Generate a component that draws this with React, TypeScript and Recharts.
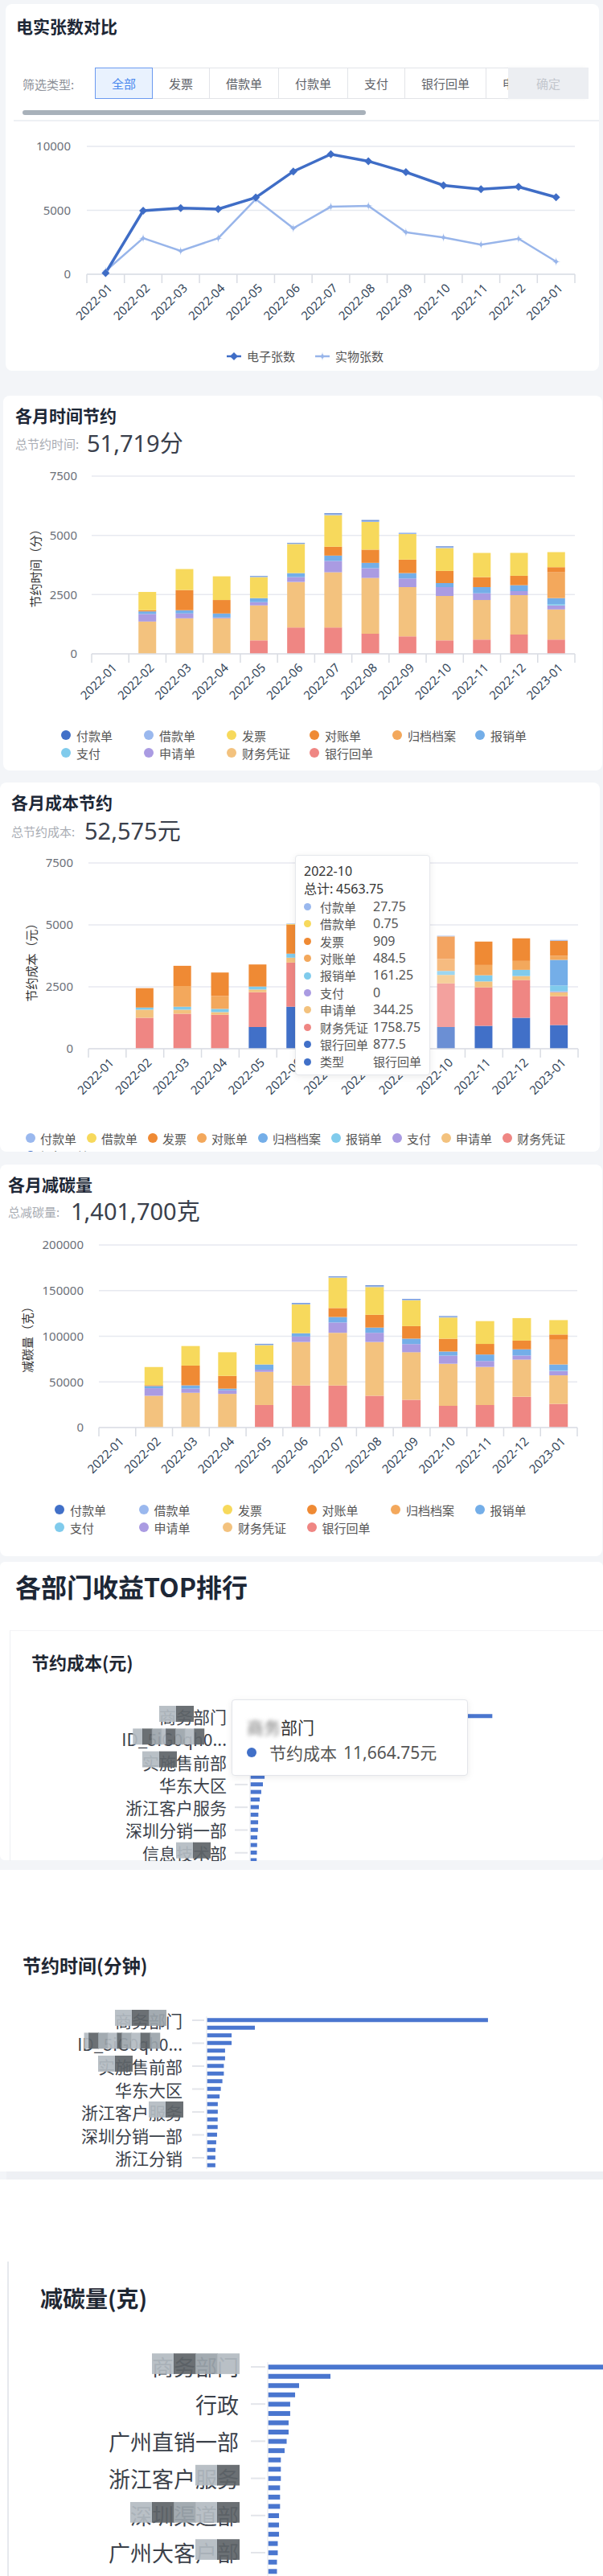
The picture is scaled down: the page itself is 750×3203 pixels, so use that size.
import React from 'react';
import { LineChart, Line, BarChart, Bar, XAxis, YAxis, CartesianGrid, Tooltip, Cell } from 'recharts';

const FONT = "'Noto Sans CJK SC', 'Noto Sans', sans-serif";
const NUM_FONT = "'Noto Sans', 'Noto Sans CJK SC', sans-serif";

const MONTHS = ['2022-01', '2022-02', '2022-03', '2022-04', '2022-05', '2022-06', '2022-07', '2022-08', '2022-09', '2022-10', '2022-11', '2022-12', '2023-01'];

// 电实张数对比
const ELECTRONIC = [100, 4970, 5180, 5100, 6000, 8040, 9390, 8840, 7980, 6950, 6650, 6840, 6020];
const PHYSICAL = [250, 2820, 1830, 2820, 5870, 3600, 5280, 5350, 3280, 2880, 2320, 2780, 990];

const FILTERS = ['全部', '发票', '借款单', '付款单', '支付', '银行回单', '申请单'];
const TYPES = ['付款单', '借款单', '发票', '对账单', '归档档案', '报销单', '支付', '申请单', '财务凭证', '银行回单'];

// 各月时间节约 (分)
const TIME_PAY = [0, 0, 0, 0, 20, 20, 34, 34, 0, 25, 0, 0, 0];
const TIME_LOAN = [0, 0, 0, 0, 25, 30, 45, 45, 57, 45, 0, 0, 0];
const TIME_INVOICE = [0, 770, 886, 1000, 886, 1227, 1329, 1170, 1079, 966, 1022, 966, 636];
const TIME_RECON = [0, 50, 852, 568, 0, 0, 375, 557, 568, 511, 420, 398, 216];
const TIME_ARCHIVE = [0, 0, 0, 0, 0, 0, 0, 0, 0, 0, 0, 0, 1090];
const TIME_EXPENSE = [0, 110, 136, 170, 170, 170, 227, 227, 227, 170, 261, 250, 250];
const TIME_PAYMENT = [0, 0, 0, 0, 0, 0, 0, 0, 0, 0, 0, 0, 57];
const TIME_APPLY = [0, 318, 205, 34, 136, 205, 477, 409, 364, 375, 284, 170, 170];
const TIME_VOUCHER = [0, 1364, 1500, 1500, 1477, 1920, 2329, 2352, 2079, 1874, 1670, 1659, 1272];
const TIME_BANK = [0, 0, 0, 0, 568, 1113, 1113, 852, 738, 568, 602, 818, 602];

// 各月成本节约 (元)
const COST_PAY = [0, 0, 0, 0, 0, 18, 30, 30, 25, 27.75, 0, 0, 33];
const COST_LOAN = [0, 0, 0, 0, 0, 25, 30, 30, 25, 0.75, 0, 0, 0];
const COST_INVOICE = [0, 783, 815, 946, 891, 1174, 1280, 1250, 1150, 909, 946, 913, 609];
const COST_RECON = [0, 0, 837, 522, 0, 0, 400, 520, 500, 484.5, 413, 359, 163];
const COST_ARCHIVE = [0, 0, 0, 0, 0, 0, 0, 0, 0, 0, 0, 0, 1033];
const COST_EXPENSE = [0, 87, 120, 130, 120, 163, 200, 190, 180, 161.25, 250, 250, 239];
const COST_PAYMENT = [0, 0, 0, 0, 0, 0, 0, 0, 0, 0, 0, 0, 33];
const COST_APPLY = [0, 326, 163, 109, 109, 196, 350, 330, 300, 344.25, 239, 163, 163];
const COST_VOUCHER = [0, 1250, 1413, 1370, 1402, 1783, 2100, 2050, 1900, 1758.75, 1554, 1522, 1163];
const COST_BANK = [0, 0, 0, 0, 880, 1696, 1850, 1500, 1300, 877.5, 924, 1250, 957];

// 各月减碳量 (克)
const CARBON_PAY = [0, 0, 0, 0, 600, 600, 600, 800, 600, 600, 0, 0, 0];
const CARBON_LOAN = [0, 0, 0, 0, 900, 900, 900, 1000, 900, 900, 0, 0, 0];
const CARBON_INVOICE = [0, 19900, 21400, 25900, 21100, 31500, 33300, 30400, 28300, 23200, 25000, 24700, 15800];
const CARBON_RECON = [0, 900, 21700, 14000, 0, 0, 9800, 14000, 13700, 14000, 11600, 9500, 5700];
const CARBON_ARCHIVE = [0, 0, 0, 0, 0, 0, 0, 0, 0, 0, 0, 0, 27100];
const CARBON_EXPENSE = [0, 2400, 3600, 1800, 5700, 3600, 6000, 5700, 6000, 4500, 7100, 6800, 6500];
const CARBON_PAYMENT = [0, 0, 0, 0, 0, 0, 0, 0, 0, 0, 0, 0, 600];
const CARBON_APPLY = [0, 8300, 4500, 3900, 2400, 6000, 11300, 10100, 8900, 8900, 6500, 4500, 4800];
const CARBON_VOUCHER = [0, 34800, 38100, 36900, 36300, 47600, 57700, 58900, 52100, 46100, 41700, 40800, 31300];
const CARBON_BANK = [0, 0, 0, 0, 24700, 46100, 46100, 34800, 30400, 23800, 24700, 33600, 25900];

// 各部门收益TOP排行
const COST_RANK_NAMES = ['商务部门', '技术支持部', '产品研发部', 'ID_5iG0qh0...', '市场部', '财务部', '实施售前部', '人力资源部', '客户成功部', '华东大区', '华南大区', '华北大区', '浙江客户服务', '上海分销部', '北京直销部', '深圳分销一部', '广州直销一部', '行政', '信息技术部', '杭州分销', '苏州分销'];
const COST_RANK_VALUES = [11664.75, 2150, 1400, 1300, 1100, 1000, 950, 850, 700, 620, 540, 465, 426, 400, 390, 380, 350, 340, 330, 320, 310];
const TIME_RANK_NAMES = ['商务部门', '技术支持部', '产品研发部', 'ID_5iG0qh0...', '市场部', '财务部', '实施售前部', '人力资源部', '客户成功部', '华东大区', '华南大区', '华北大区', '浙江客户服务', '上海分销部', '北京直销部', '深圳分销一部', '广州直销一部', '行政', '浙江分销', '信息技术部'];
const TIME_RANK_VALUES = [11600, 1990, 1030, 1030, 760, 760, 710, 710, 650, 585, 535, 460, 460, 455, 455, 430, 395, 365, 360, 360];
const CARBON_RANK_NAMES = ['商务部门', '技术支持部', '产品研发部', '市场部', '行政', '财务部', '人力资源部', '客户成功部', '广州直销一部', '华东大区', '华南大区', '华北大区', '浙江客户服务', '上海分销部', '北京直销部', '深圳分销一部', '深圳渠道部', '信息技术部', '杭州分销', '苏州分销', '广州大客户部', '浙江分销', '南京分销', '成都分销'];
const CARBON_RANK_VALUES = [320000, 55000, 27500, 24000, 19700, 19700, 18300, 18300, 16600, 14800, 11500, 11500, 11500, 10800, 10800, 10800, 9900, 9900, 9900, 8800, 8800, 8100, 8100, 7800];

const PALETTE = ['#4170c8', '#9ab8ee', '#f7d95c', '#ef8a34', '#f3a85c', '#74aee8', '#80cbec', '#aa9be2', '#f3c27e', '#ef8683'];
const TIME_COLORS: Record<string, string> = {};
const COST_COLORS: Record<string, string> = {};
TYPES.forEach((t, i) => {
  TIME_COLORS[t] = PALETTE[i];
  COST_COLORS[t] = PALETTE[(i + 1) % PALETTE.length];
});
const STACK_ORDER = [...TYPES].reverse();
const MOSAIC = ['#b3bbc1', '#5e6468', '#9ba4aa'];

function buildRows(series: number[][]) {
  return MONTHS.map((m, i) => {
    const row: any = { month: m };
    TYPES.forEach((t, k) => { row[t] = series[k][i]; });
    return row;
  });
}

const timeRows = buildRows([TIME_PAY, TIME_LOAN, TIME_INVOICE, TIME_RECON, TIME_ARCHIVE, TIME_EXPENSE, TIME_PAYMENT, TIME_APPLY, TIME_VOUCHER, TIME_BANK]);
const costRows = buildRows([COST_PAY, COST_LOAN, COST_INVOICE, COST_RECON, COST_ARCHIVE, COST_EXPENSE, COST_PAYMENT, COST_APPLY, COST_VOUCHER, COST_BANK]);
const carbonRows = buildRows([CARBON_PAY, CARBON_LOAN, CARBON_INVOICE, CARBON_RECON, CARBON_ARCHIVE, CARBON_EXPENSE, CARBON_PAYMENT, CARBON_APPLY, CARBON_VOUCHER, CARBON_BANK]);
const lineRows = MONTHS.map((m, i) => ({ month: m, e: ELECTRONIC[i], p: PHYSICAL[i] }));

function lighten(hex: string, k: number) {
  const n = parseInt(hex.slice(1), 16);
  const f = (c: number) => Math.round(c + (255 - c) * k);
  return `rgb(${f((n >> 16) & 255)},${f((n >> 8) & 255)},${f(n & 255)})`;
}

function charW(ch: string, fs: number) {
  if (/[\u3000-\uffff]/.test(ch)) return fs;
  if (ch === '.' || ch === 'i' || ch === 'I') return fs * 0.27;
  return fs * 0.56;
}

function Txt({ x, cy, size, color = '#333', weight = 400, family, children }: any) {
  return (
    <div style={{ position: 'absolute', left: x, top: cy - size * 0.7, height: size * 1.4, lineHeight: `${size * 1.4}px`, fontSize: size, color, fontWeight: weight, whiteSpace: 'nowrap', fontFamily: family || FONT }}>
      {children}
    </div>
  );
}

function Card({ x, y, w, h, radius = 8, children }: any) {
  return <div style={{ position: 'absolute', left: x, top: y, width: w, height: h, background: '#fff', borderRadius: radius, overflow: 'hidden' }}>{children}</div>;
}

function VLabel({ cx, cy, children }: any) {
  return (
    <div style={{ position: 'absolute', left: cx, top: cy, transform: 'translate(-50%,-50%) rotate(-90deg)', fontSize: 15, color: '#333', whiteSpace: 'nowrap' }}>{children}</div>
  );
}

function BandTick(props: any) {
  const { x, y, payload, index, bw, n } = props;
  const half = bw / 2;
  const tx = x + 5;
  const ty = y + 14;
  return (
    <g>
      <line x1={x - half} x2={x - half} y1={y} y2={y + 11} stroke="#d9dce3" strokeWidth={1.5} />
      {index === n - 1 && <line x1={x + half} x2={x + half} y1={y} y2={y + 11} stroke="#d9dce3" strokeWidth={1.5} />}
      <text x={tx} y={ty} transform={`rotate(-45 ${tx} ${ty})`} textAnchor="end" dominantBaseline="central" fontSize={15} fill="#34465a" fontFamily={NUM_FONT}>
        {payload.value}
      </text>
    </g>
  );
}

function Diamond({ cx, cy, fill }: any) {
  if (cx == null || cy == null) return null;
  const r = 5;
  return <path d={`M${cx} ${cy - r}L${cx + r} ${cy}L${cx} ${cy + r}L${cx - r} ${cy}Z`} fill={fill} />;
}

function Star({ cx, cy, fill }: any) {
  if (cx == null || cy == null) return null;
  const r = 5.5;
  return <path d={`M${cx} ${cy - r}Q${cx} ${cy} ${cx + r} ${cy}Q${cx} ${cy} ${cx} ${cy + r}Q${cx} ${cy} ${cx - r} ${cy}Q${cx} ${cy} ${cx} ${cy - r}Z`} fill={fill} />;
}

function LineSection() {
  const plotLeft = 108, plotRight = 715, plotTop = 182, plotBottom = 341, top = 170, yW = 60, xH = 72;
  const bw = (plotRight - plotLeft) / MONTHS.length;
  return (
    <div style={{ position: 'absolute', left: 0, top }}>
      <LineChart width={750} height={plotTop - top + plotBottom - plotTop + xH} data={lineRows}
        margin={{ top: plotTop - top, right: 750 - plotRight, left: plotLeft - yW, bottom: 0 }}>
        <CartesianGrid vertical={false} stroke="#e6e9ef" strokeWidth={1.5} />
        <XAxis dataKey="month" interval={0} height={xH} padding={{ left: bw / 2, right: bw / 2 }} tickSize={0} tickMargin={0} tickLine={false}
          axisLine={{ stroke: '#dcdfe6', strokeWidth: 1.5 }} tick={(p: any) => <BandTick {...p} bw={bw} n={MONTHS.length} />} />
        <YAxis width={yW} domain={[0, 10000]} ticks={[0, 5000, 10000]} axisLine={false} tickLine={false} tickSize={0} tickMargin={20}
          tick={{ fill: '#6b7079', fontSize: 15, fontFamily: NUM_FONT }} />
        <Line dataKey="p" stroke="#98b5ea" strokeWidth={2.5} dot={<Star fill="#98b5ea" />} activeDot={false} isAnimationActive={false} />
        <Line dataKey="e" stroke="#3f6dc6" strokeWidth={3.5} dot={<Diamond fill="#3f6dc6" />} activeDot={false} isAnimationActive={false} />
      </LineChart>
    </div>
  );
}

function CostTip() {
  const i = 9;
  const keys = ['付款单', '借款单', '发票', '对账单', '报销单', '支付', '申请单', '财务凭证', '银行回单'];
  const total = Math.round(TYPES.reduce((s, t) => s + costRows[i][t], 0) * 100) / 100;
  const row = (color: string, name: string, val: any) => (
    <div key={name} style={{ display: 'flex', alignItems: 'center', height: 21.4, whiteSpace: 'nowrap' }}>
      <span style={{ flex: 'none', width: 9, height: 9, borderRadius: 5, background: color, marginLeft: 0, marginRight: 11 }} />
      <span style={{ flex: 'none', width: 66, color: '#555', fontSize: 15 }}>{name}</span>
      <span style={{ flex: 'none', color: '#555', fontFamily: NUM_FONT }}>{val}</span>
    </div>
  );
  return (
    <div style={{ width: 168, height: 274, boxSizing: 'border-box', background: '#fff', border: '1px solid #e6e8ec', borderRadius: 4, boxShadow: '0 2px 8px rgba(0,0,0,0.08)', padding: '9px 0 0 10px', fontSize: 16, lineHeight: '21.4px', fontFamily: FONT }}>
      <div style={{ color: '#333', fontFamily: NUM_FONT }}>{costRows[i].month}</div>
      <div style={{ color: '#333', whiteSpace: 'nowrap' }}>总计: <span style={{ fontFamily: NUM_FONT }}>{total}</span></div>
      {keys.map(k => row(COST_COLORS[k], k, String(costRows[i][k])))}
      {row(COST_COLORS['银行回单'], '类型', <span style={{ fontFamily: FONT, fontSize: 15 }}>银行回单</span>)}
    </div>
  );
}

function StackedChart({ top, data, colors, plotLeft, plotRight, plotTop, plotBottom, yW, yMax, yTicks, tickGap, barSize, highlight, tooltip }: any) {
  const xH = 72;
  const bw = (plotRight - plotLeft) / MONTHS.length;
  return (
    <div style={{ position: 'absolute', left: 0, top }}>
      <BarChart width={750} height={plotTop - top + plotBottom - plotTop + xH} data={data}
        margin={{ top: plotTop - top, right: 750 - plotRight, left: plotLeft - yW, bottom: 0 }}>
        <CartesianGrid vertical={false} stroke="#e7e9f0" strokeWidth={1.5} />
        <XAxis dataKey="month" interval={0} height={xH} tickSize={0} tickMargin={0} tickLine={false}
          axisLine={{ stroke: '#dcdfe6', strokeWidth: 1.5 }} tick={(p: any) => <BandTick {...p} bw={bw} n={MONTHS.length} />} />
        <YAxis width={yW} domain={[0, yMax]} ticks={yTicks} axisLine={false} tickLine={false} tickSize={0} tickMargin={tickGap}
          tick={{ fill: '#6b7079', fontSize: 15, fontFamily: NUM_FONT }} />
        {STACK_ORDER.map(t => (
          <Bar key={t} dataKey={t} stackId="s" fill={colors[t]} barSize={barSize} isAnimationActive={false}>
            {highlight != null && data.map((_: any, i: number) => (
              <Cell key={i} fill={i === highlight ? lighten(colors[t], 0.22) : colors[t]} />
            ))}
          </Bar>
        ))}
        {tooltip}
      </BarChart>
    </div>
  );
}

function GridLegend({ x, y, colW, colors }: any) {
  return (
    <div style={{ position: 'absolute', left: x, top: y, display: 'grid', gridTemplateColumns: `repeat(6, ${colW}px)`, gridAutoRows: '22px' }}>
      {TYPES.map(t => (
        <div key={t} style={{ display: 'flex', alignItems: 'center', fontSize: 15, color: '#555' }}>
          <span style={{ width: 12, height: 12, borderRadius: 6, background: colors[t], marginRight: 7 }} />{t}
        </div>
      ))}
    </div>
  );
}

function RankTick(props: any) {
  const { x, y, payload, fs, masks, tickLen, labelGap } = props;
  const name = String(payload.value);
  const xr = x - labelGap;
  const m = masks[name];
  let rects: any = null;
  if (m) {
    const ws = Array.from(name).map(ch => charW(ch, fs));
    const total = ws.reduce((a, b) => a + b, 0);
    let cur = xr - total;
    const pos = ws.map(w => { const s = cur; cur += w; return [s, w]; });
    rects = pos.slice(m[0], m[0] + m[1]).map(([s, w], i) => (
      <rect key={i} x={s} y={y - fs * 0.62} width={w + 1} height={fs * 0.95} fill={MOSAIC[i % 3]} opacity={0.92} />
    ));
  }
  return (
    <g>
      <line x1={x - 3 - tickLen} x2={x - 3} y1={y} y2={y} stroke="#e3e5ea" strokeWidth={2} />
      <text x={xr} y={y} textAnchor="end" dominantBaseline="central" fontSize={fs} fill="#3b414a" fontFamily={FONT}>{name}</text>
      {rects}
    </g>
  );
}

function RankChart({ top, names, values, plotLeft, plotRight, plotTop, band, fs, interval, barSize, max, masks, tickLen, labelGap, width = 750, tooltip }: any) {
  const data = names.map((name: string, i: number) => ({ name, value: values[i] }));
  const plotH = band * names.length;
  return (
    <div style={{ position: 'absolute', left: 0, top }}>
      <BarChart layout="vertical" width={width} height={plotTop - top + plotH + 2} data={data} barCategoryGap={0}
        margin={{ top: plotTop - top, right: width - plotRight, left: 0, bottom: 2 }}>
        <XAxis type="number" hide domain={[0, max]} />
        <YAxis type="category" dataKey="name" width={plotLeft} interval={interval} tickSize={0} tickMargin={0} tickLine={false}
          axisLine={{ stroke: '#eceef2', strokeWidth: 1.5 }}
          tick={(p: any) => <RankTick {...p} fs={fs} masks={masks} tickLen={tickLen} labelGap={labelGap} />} />
        <Bar dataKey="value" fill="#4a76cf" barSize={barSize} isAnimationActive={false} />
        {tooltip}
      </BarChart>
    </div>
  );
}

function RankTip() {
  const v = COST_RANK_VALUES[0].toLocaleString('en-US', { minimumFractionDigits: 2 });
  return (
    <div style={{ width: 294, height: 95, boxSizing: 'border-box', background: '#fff', border: '1px solid #e3e5ea', borderRadius: 4, boxShadow: '0 2px 8px rgba(0,0,0,0.08)', padding: '20px 18px', fontSize: 21, lineHeight: '26px', color: '#333', fontFamily: FONT, whiteSpace: 'nowrap' }}>
      <div>
        <span style={{ filter: 'blur(2.5px)', color: '#777' }}>{COST_RANK_NAMES[0].slice(0, 2)}</span>{COST_RANK_NAMES[0].slice(2)}
      </div>
      <div style={{ display: 'flex', alignItems: 'center', marginTop: 6, color: '#555' }}>
        <span style={{ width: 12, height: 12, borderRadius: 6, background: '#4170c8', marginRight: 16 }} />
        节约成本 <span style={{ marginLeft: 8, fontFamily: NUM_FONT }}>{v}元</span>
      </div>
    </div>
  );
}

function LegendMark({ color, shape }: any) {
  return (
    <svg width={20} height={14} style={{ marginRight: 6 }}>
      <line x1={1} x2={19} y1={7} y2={7} stroke={color} strokeWidth={2.5} />
      {shape === 'diamond' ? <Diamond cx={10} cy={7} fill={color} /> : <Star cx={10} cy={7} fill={color} />}
    </svg>
  );
}

export default function App() {
  return (
    <div style={{ position: 'relative', width: 750, height: 3203, overflow: 'hidden', background: '#f3f5f8', fontFamily: FONT, color: '#333' }}>
      <style>{'body{margin:0}'}</style>

      {/* 电实张数对比 */}
      <Card x={7} y={5} w={738} h={456} />
      <Txt x={20} cy={33} size={21} weight={700} color="#1d2736">电实张数对比</Txt>
      <Txt x={28} cy={104} size={15} color="#8c9098">筛选类型:</Txt>
      <div style={{ position: 'absolute', left: 118, top: 84, width: 514, height: 39, overflow: 'hidden', display: 'flex' }}>
        {FILTERS.map((f, i) => (
          <div key={f} style={{
            flex: 'none', height: 39, boxSizing: 'border-box', padding: '0 20px', lineHeight: '37px', fontSize: 15, marginLeft: i === 0 ? 0 : -1,
            border: i === 0 ? '1.5px solid #6b9af0' : '1px solid #e2e4e8', background: i === 0 ? '#e9f2fe' : '#fff',
            color: i === 0 ? '#4a88ee' : '#5d6168', zIndex: i === 0 ? 2 : 1, position: 'relative',
          }}>{f}</div>
        ))}
      </div>
      <div style={{ position: 'absolute', left: 632, top: 84, width: 100, height: 39, background: '#eceef2', color: '#c3c7ce', fontSize: 15, lineHeight: '39px', textAlign: 'center', boxShadow: '-3px 0 4px rgba(0,0,0,0.04)' }}>确定</div>
      <div style={{ position: 'absolute', left: 28, top: 137, width: 427, height: 6, borderRadius: 3, background: '#a8b1ba' }} />
      <div style={{ position: 'absolute', left: 17, top: 149, width: 728, height: 1.5, background: '#eef0f4' }} />
      <LineSection />
      <div style={{ position: 'absolute', left: 0, width: 750, top: 432, display: 'flex', justifyContent: 'center', fontSize: 15, color: '#555', paddingLeft: 8, boxSizing: 'border-box' }}>
        <div style={{ display: 'flex', alignItems: 'center', marginRight: 24 }}>
          <LegendMark color="#3f6dc6" shape="diamond" />电子张数
        </div>
        <div style={{ display: 'flex', alignItems: 'center' }}>
          <LegendMark color="#98b5ea" shape="star" />实物张数
        </div>
      </div>

      {/* 各月时间节约 */}
      <Card x={4} y={492} w={745} h={466} />
      <Txt x={19} cy={517} size={21} weight={700} color="#1d2736">各月时间节约</Txt>
      <Txt x={19} cy={551} size={15} color="#a8acb3">总节约时间:</Txt>
      <Txt x={108} cy={549} size={29} color="#3a404c" family={NUM_FONT}>51,719<span style={{ fontFamily: FONT }}>分</span></Txt>
      <VLabel cx={43} cy={703}>节约时间（分）</VLabel>
      <StackedChart top={580} data={timeRows} colors={TIME_COLORS} plotLeft={114} plotRight={715} plotTop={592} plotBottom={813}
        yW={80} yMax={7500} yTicks={[0, 2500, 5000, 7500]} tickGap={18} barSize={22} />
      <GridLegend x={76} y={903} colW={103} colors={TIME_COLORS} />

      {/* 各月成本节约 */}
      <div style={{ position: 'absolute', left: 0, top: 973, width: 746, height: 459, background: '#fff', borderRadius: 8, overflow: 'hidden' }}>
        <div style={{ position: 'absolute', left: 32, top: 1404 - 973, width: 710, display: 'flex', flexWrap: 'wrap', rowGap: 0 }}>
          {TYPES.map(t => (
            <div key={t} style={{ display: 'flex', alignItems: 'center', height: 22, fontSize: 15, color: '#555', marginRight: 13 }}>
              <span style={{ width: 12, height: 12, borderRadius: 6, background: COST_COLORS[t], marginRight: 6 }} />{t}
            </div>
          ))}
        </div>
      </div>
      <Txt x={14} cy={998} size={21} weight={700} color="#1d2736">各月成本节约</Txt>
      <Txt x={14} cy={1033} size={15} color="#a8acb3">总节约成本:</Txt>
      <Txt x={105} cy={1031} size={29} color="#3a404c" family={NUM_FONT}>52,575<span style={{ fontFamily: FONT }}>元</span></Txt>
      <VLabel cx={38} cy={1193}>节约成本（元）</VLabel>
      <StackedChart top={1061} data={costRows} colors={COST_COLORS} plotLeft={110} plotRight={719} plotTop={1073} plotBottom={1304}
        yW={80} yMax={7500} yTicks={[0, 2500, 5000, 7500]} tickGap={19} barSize={22} highlight={9}
        tooltip={<Tooltip active defaultIndex={9} cursor={false} isAnimationActive={false} position={{ x: 367, y: 2 }} wrapperStyle={{ zIndex: 10 }} content={() => <CostTip />} />} />

      {/* 各月减碳量 */}
      <Card x={0} y={1448} w={749} h={487} />
      <Txt x={10} cy={1473} size={21} weight={700} color="#1d2736">各月减碳量</Txt>
      <Txt x={10} cy={1506} size={15} color="#a8acb3">总减碳量:</Txt>
      <Txt x={88} cy={1504} size={29} color="#3a404c" family={NUM_FONT}>1,401,700<span style={{ fontFamily: FONT }}>克</span></Txt>
      <VLabel cx={33} cy={1662}>减碳量（克）</VLabel>
      <StackedChart top={1536} data={carbonRows} colors={TIME_COLORS} plotLeft={123} plotRight={718} plotTop={1548} plotBottom={1775}
        yW={90} yMax={200000} yTicks={[0, 50000, 100000, 150000, 200000]} tickGap={19} barSize={23} />
      <GridLegend x={68} y={1866} colW={104.5} colors={TIME_COLORS} />

      {/* 各部门收益TOP排行 */}
      <Card x={0} y={1942} w={750} h={371} radius={6} />
      <Txt x={19} cy={1972} size={32} weight={700} color="#1d2736">各部门收益TOP排行</Txt>
      <div style={{ position: 'absolute', left: 12, top: 2027, width: 740, height: 286, borderLeft: '1.5px solid #eef0f3', borderTop: '1px solid #f3f4f6', overflow: 'hidden' }}>
        <Txt x={26} cy={2065 - 2027} size={22} weight={600} color="#1f2733">节约成本(元)</Txt>
        <div style={{ position: 'absolute', left: -12, top: 0 }}>
          <RankChart top={2100 - 2027} names={COST_RANK_NAMES} values={COST_RANK_VALUES} plotLeft={310} plotRight={620}
            plotTop={2133 - 2027 - 4.7} band={9.43} fs={21} interval={2} barSize={5} max={12000} tickLen={16} labelGap={29}
            masks={{ '商务部门': [0, 2], 'ID_5iG0qh0...': [1, 8], '实施售前部': [0, 2], '信息技术部': [2, 2] }}
            tooltip={<Tooltip active defaultIndex={0} cursor={false} isAnimationActive={false} position={{ x: 287, y: 12 }} wrapperStyle={{ zIndex: 10 }} content={() => <RankTip />} />} />
        </div>
      </div>

      <div style={{ position: 'absolute', left: 0, top: 2325, width: 750, height: 375, background: '#fff' }} />
      <div style={{ position: 'absolute', left: 8, top: 2700, width: 742, height: 10, background: '#eef0f4' }} />
      <div style={{ position: 'absolute', left: 0, top: 2710, width: 750, height: 493, background: '#fff' }} />
      <Txt x={28} cy={2443} size={23} weight={600} color="#1f2733">节约时间(分钟)</Txt>
      <div style={{ position: 'absolute', left: 0, top: 2480, width: 750, height: 220, overflow: 'hidden' }}>
        <RankChart top={0} names={TIME_RANK_NAMES} values={TIME_RANK_VALUES} plotLeft={257} plotRight={619}
          plotTop={2512 - 2480 - 4.75} band={9.5} fs={21} interval={2} barSize={5} max={12000} tickLen={15} labelGap={30}
          masks={{ '商务部门': [0, 3], 'ID_5iG0qh0...': [0, 9], '实施售前部': [0, 2], '浙江客户服务': [4, 2] }} />
      </div>

      <div style={{ position: 'absolute', left: 9, top: 2812, width: 1.5, height: 391, background: '#e6e9ed' }} />
      <Txt x={50} cy={2858} size={28} weight={700} color="#1f2733">减碳量(克)</Txt>
      <div style={{ position: 'absolute', left: 0, top: 2900, width: 750, height: 303, overflow: 'hidden' }}>
        <RankChart top={0} width={810} names={CARBON_RANK_NAMES} values={CARBON_RANK_VALUES} plotLeft={333} plotRight={801}
          plotTop={2943 - 2900 - 5.8} band={11.55} fs={27} interval={3} barSize={6} max={330000} tickLen={18} labelGap={36}
          masks={{ '商务部门': [0, 4], '浙江客户服务': [4, 2], '深圳渠道部': [0, 5], '广州大客户部': [4, 2] }} />
      </div>
    </div>
  );
}
